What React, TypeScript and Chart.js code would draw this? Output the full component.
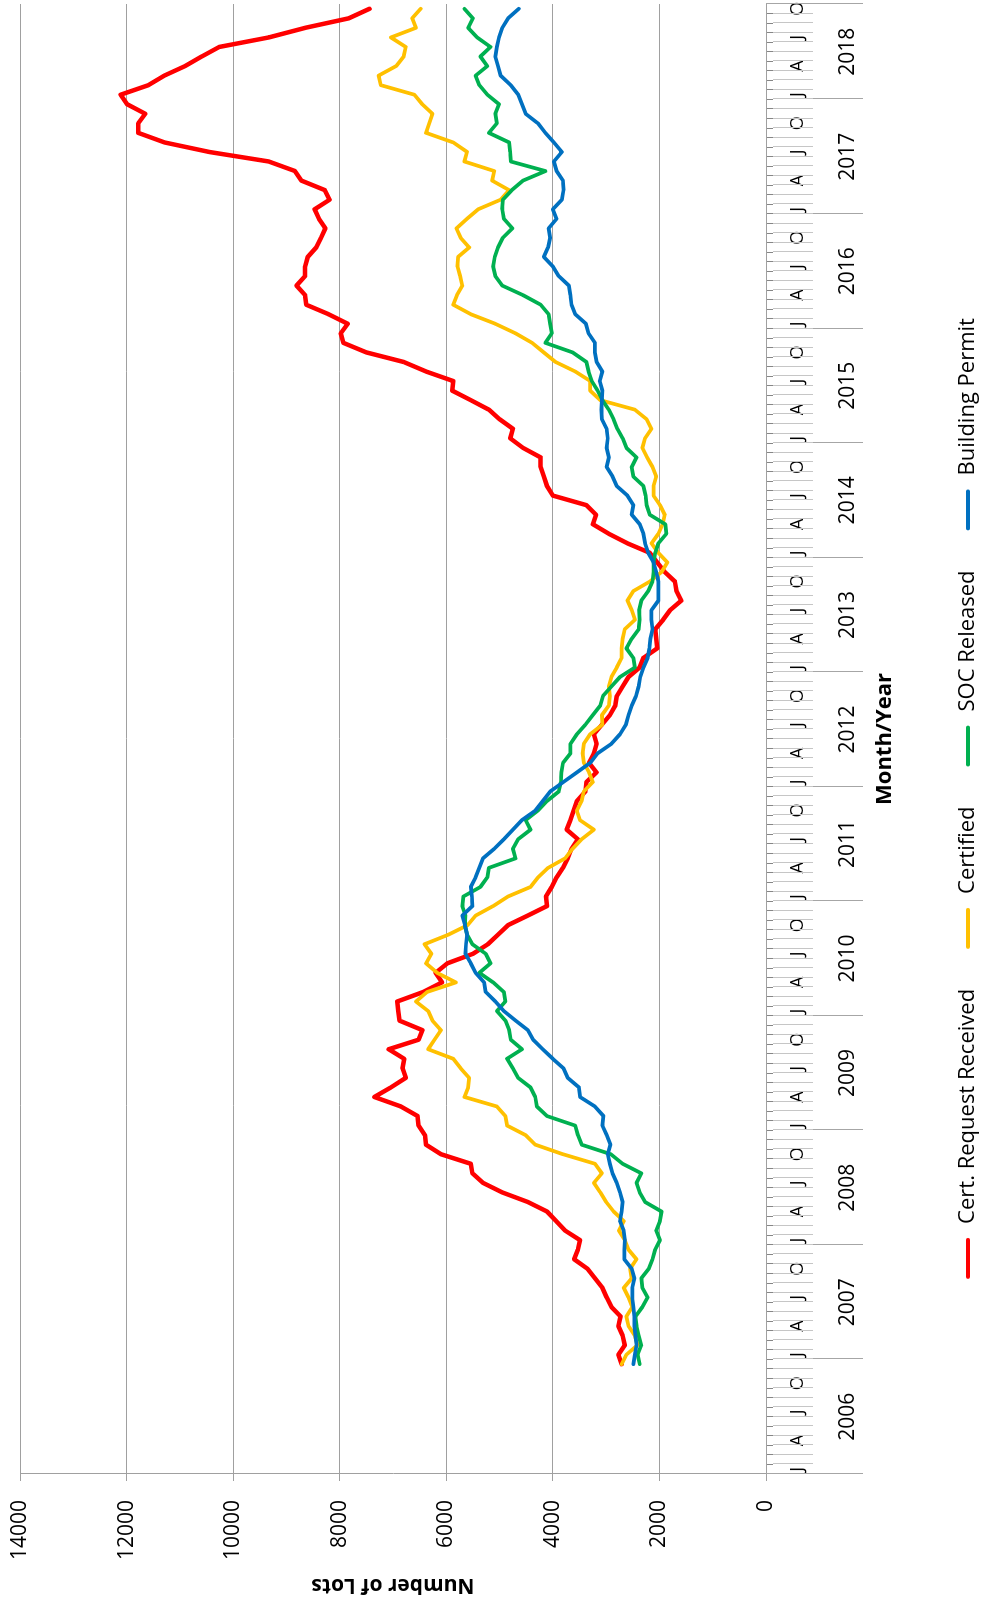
import React, { useEffect, useRef } from 'react';
import { Chart, registerables } from 'chart.js';

Chart.register(...registerables);

// ---- Category axis: months Jan 2006 .. Oct 2018 ----
const YEARS = [2006, 2007, 2008, 2009, 2010, 2011, 2012, 2013, 2014, 2015, 2016, 2017, 2018];
const MONTH_NAMES = ['Jan', 'Feb', 'Mar', 'Apr', 'May', 'Jun', 'Jul', 'Aug', 'Sep', 'Oct', 'Nov', 'Dec'];
const MONTH_TICK_LETTERS = ['J', '', '', 'A', '', '', 'J', '', '', 'O', '', ''];
const MONTHS_IN_LAST_YEAR = 10;
const FIRST_DATA_INDEX = 11; // data begins Dec 2006

const VALUE_MIN = 0;
const VALUE_MAX = 14000;
const VALUE_STEP = 2000;

// ---- Series values, Dec 2006 .. Oct 2018 ----
const certRequestReceived = [
  2710, 2770, 2650, 2690, 2770, 2730, 2900, 2990, 3070, 3210, 3350, 3600, 3530,
  3490, 3770, 3940, 4110, 4470, 4950, 5310, 5510, 5540, 6100, 6380, 6400, 6520,
  6540, 6850, 7350, 7040, 6760, 6820, 6790, 7080, 6520, 6450, 6880, 6900, 6920,
  6430, 6080, 6200, 5980, 5500, 5220, 5030, 4840, 4470, 4110, 4130, 4020, 3930,
  3810, 3720, 3650, 3530, 3740, 3670, 3610, 3550, 3390, 3370, 3180, 3320, 3230,
  3180, 3230, 3080, 2930, 2830, 2800, 2690, 2580, 2370, 2300, 2040, 2060, 2080,
  1930, 1800, 1590, 1680, 1710, 1900, 2040, 2180, 2600, 2950, 3250, 3190, 3370,
  4000, 4110, 4170, 4230, 4230, 4560, 4800, 4750, 5000, 5200, 5540, 5890, 5870,
  6380, 6800, 7500, 7930, 7980, 7850, 8210, 8630, 8650, 8810, 8650, 8650, 8600,
  8440, 8350, 8270, 8390, 8470, 8190, 8280, 8720, 8840, 9330, 10450, 11290, 11780,
  11780, 11650, 11990, 12110, 11590, 11290, 10900, 10590, 10260, 9330, 8650, 7830, 7440,
];

const certified = [
  2710, 2620, 2410, 2460, 2580, 2620, 2510, 2580, 2670, 2520, 2550, 2430, 2580,
  2650, 2760, 2670, 2860, 3000, 3110, 3230, 3080, 3210, 3810, 4330, 4510, 4860,
  4890, 5050, 5660, 5590, 5570, 5730, 5870, 6340, 6220, 6100, 6260, 6340, 6570,
  6360, 5820, 6170, 6380, 6280, 6410, 5960, 5600, 5450, 5120, 4840, 4420, 4280,
  4090, 3770, 3630, 3460, 3230, 3490, 3550, 3460, 3420, 3250, 3320, 3420, 3440,
  3420, 3300, 3070, 3080, 2950, 2930, 2950, 2900, 2800, 2710, 2710, 2690, 2650,
  2460, 2520, 2600, 2490, 2180, 1960, 1850, 2020, 2150, 2020, 1940, 1900, 1990,
  2110, 2110, 2060, 2130, 2230, 2320, 2270, 2150, 2240, 2460, 3110, 3300, 3300,
  3580, 3950, 4170, 4390, 4700, 5080, 5540, 5870, 5800, 5700, 5740, 5790, 5780,
  5570, 5730, 5810, 5610, 5400, 4980, 4820, 5140, 5100, 5660, 5610, 5870, 6380,
  6320, 6260, 6450, 6600, 7230, 7270, 6940, 6800, 6760, 7040, 6570, 6640, 6480,
];

const socReleased = [
  2370, 2410, 2340, 2390, 2430, 2450, 2320, 2220, 2320, 2340, 2200, 2130, 2080,
  1990, 2060, 1990, 1960, 2270, 2370, 2430, 2340, 2690, 2910, 3460, 3530, 3580,
  4110, 4300, 4330, 4420, 4650, 4750, 4860, 4580, 4790, 4820, 4890, 5050, 4890,
  4920, 5120, 5380, 5170, 5260, 5510, 5610, 5650, 5640, 5700, 5680, 5360, 5230,
  5200, 4700, 4750, 4650, 4420, 4510, 4280, 4110, 3890, 3850, 3840, 3810, 3670,
  3670, 3550, 3390, 3250, 3110, 3060, 2900, 2740, 2460, 2490, 2620, 2520, 2390,
  2370, 2380, 2340, 2210, 2130, 2110, 2110, 2080, 2020, 1870, 1890, 2180, 2240,
  2260, 2300, 2490, 2520, 2430, 2620, 2690, 2790, 2860, 2950, 3070, 3160, 3270,
  3330, 3370, 3630, 4140, 4020, 4050, 4080, 4230, 4560, 4950, 5080, 5120, 5090,
  5030, 4940, 4760, 4920, 4950, 4940, 4770, 4560, 4140, 4790, 4800, 4820, 5200,
  5050, 5080, 5010, 5230, 5380, 5450, 5230, 5360, 5170, 5420, 5590, 5500, 5660,
];

const buildingPermit = [
  2490, 2460, 2430, 2450, 2470, 2470, 2490, 2510, 2510, 2470, 2520, 2660, 2660,
  2650, 2670, 2740, 2710, 2690, 2740, 2800, 2880, 2930, 2970, 2920, 2990, 3070,
  3050, 3210, 3490, 3510, 3720, 3800, 4000, 4190, 4370, 4470, 4700, 4920, 5080,
  5260, 5290, 5450, 5540, 5640, 5630, 5610, 5650, 5700, 5510, 5520, 5540, 5450,
  5380, 5310, 5100, 4920, 4750, 4580, 4330, 4190, 4050, 3800, 3550, 3300, 3160,
  2900, 2740, 2630, 2580, 2520, 2440, 2390, 2360, 2300, 2220, 2190, 2170, 2130,
  2150, 2150, 2020, 2020, 2020, 2060, 2110, 2210, 2270, 2300, 2370, 2520, 2490,
  2600, 2800, 2880, 2990, 2950, 2990, 2970, 2990, 3080, 3090, 3080, 3070, 3120,
  3070, 3180, 3210, 3210, 3330, 3380, 3580, 3650, 3670, 3700, 3890, 4000, 4170,
  4090, 4050, 4080, 3930, 4000, 3830, 3800, 3810, 3930, 3980, 3830, 3980, 4140,
  4280, 4510, 4580, 4650, 4790, 4980, 5030, 5080, 5050, 5010, 4950, 4840, 4640,
];

const SERIES_LABELS = ['Cert. Request Received', 'Certified', 'SOC Released', 'Building Permit'];
const SERIES_COLORS = ['#FF0000', '#FFC000', '#00B050', '#0070C0'];
const SERIES_WIDTHS = [4.5, 3.75, 3.75, 3.75];

const FONT = '"Open Sans", "Liberation Sans", sans-serif';

function buildLabels(): string[] {
  const out: string[] = [];
  YEARS.forEach((y, yi) => {
    const count = yi === YEARS.length - 1 ? MONTHS_IN_LAST_YEAR : 12;
    for (let m = 0; m < count; m++) out.push(`${MONTH_NAMES[m]} ${y}`);
  });
  return out;
}

function pad(values: number[], total: number): (number | null)[] {
  const arr: (number | null)[] = [];
  for (let i = 0; i < total; i++) {
    const k = i - FIRST_DATA_INDEX;
    arr.push(k >= 0 && k < values.length ? values[k] : null);
  }
  return arr;
}

const multiLevelAxisPlugin = {
  id: 'multiLevelAxis',
  afterDraw(chart: any) {
    const { ctx, chartArea } = chart;
    const xs = chart.scales.x;
    const n = chart.data.labels.length;
    const half = (xs.getPixelForValue(1) - xs.getPixelForValue(0)) / 2;
    const boundary = (i: number) =>
      i < n ? xs.getPixelForValue(i) - half : xs.getPixelForValue(n - 1) + half;
    const base = chartArea.bottom;
    ctx.save();
    // month separators in label row
    ctx.strokeStyle = '#c6c6c6';
    ctx.lineWidth = 1;
    for (let i = 0; i <= n; i++) {
      const bx = Math.round(boundary(i)) + 0.5;
      ctx.beginPath();
      ctx.moveTo(bx, base + 7);
      ctx.lineTo(bx, base + 47);
      ctx.stroke();
    }
    // year separators & labels
    ctx.strokeStyle = '#a6a6a6';
    const yearStarts: number[] = [];
    for (let i = 0; i < n; i += 12) yearStarts.push(i);
    yearStarts.push(n);
    for (let k = 0; k < yearStarts.length; k++) {
      const bx = Math.round(boundary(yearStarts[k])) + 0.5;
      const isEdge = k === 0 || k === yearStarts.length - 1;
      ctx.beginPath();
      ctx.moveTo(bx, isEdge ? base : base + 47);
      ctx.lineTo(bx, base + 97);
      ctx.stroke();
    }
    ctx.fillStyle = '#000';
    ctx.font = `21px ${FONT}`;
    ctx.textAlign = 'center';
    ctx.textBaseline = 'middle';
    for (let k = 0; k < yearStarts.length - 1; k++) {
      const a = boundary(yearStarts[k]);
      const b = boundary(yearStarts[k + 1]);
      ctx.fillText(String(YEARS[k]), (a + b) / 2, base + 82);
    }
    ctx.restore();
  },
};

const legendPlugin = {
  id: 'rowLegend',
  afterDraw(chart: any) {
    const { ctx } = chart;
    const datasets = chart.data.datasets;
    ctx.save();
    ctx.font = `22px ${FONT}`;
    const marker = 37;
    const gap = 16;
    const itemGap = 42;
    const widths = datasets.map((d: any) => ctx.measureText(d.label).width);
    const total =
      widths.reduce((s: number, w: number) => s + marker + gap + w, 0) + itemGap * (datasets.length - 1);
    let x = (chart.width - total) / 2 + 5;
    const y = 968;
    datasets.forEach((d: any, i: number) => {
      ctx.strokeStyle = d.borderColor;
      ctx.lineWidth = 4;
      ctx.lineCap = 'round';
      ctx.beginPath();
      ctx.moveTo(x, y);
      ctx.lineTo(x + marker, y);
      ctx.stroke();
      ctx.fillStyle = '#000';
      ctx.textAlign = 'left';
      ctx.textBaseline = 'middle';
      ctx.fillText(d.label, x + marker + gap, y);
      x += marker + gap + widths[i] + itemGap;
    });
    ctx.restore();
  },
};

export default function App() {
  const canvasRef = useRef<HTMLCanvasElement | null>(null);

  useEffect(() => {
    if (!canvasRef.current) return;
    const labels = buildLabels();
    const seriesValues = [certRequestReceived, certified, socReleased, buildingPermit];
    const chart = new Chart(canvasRef.current, {
      type: 'line',
      data: {
        labels,
        datasets: seriesValues.map((vals, i) => ({
          label: SERIES_LABELS[i],
          data: pad(vals, labels.length),
          borderColor: SERIES_COLORS[i],
          backgroundColor: SERIES_COLORS[i],
          borderWidth: SERIES_WIDTHS[i],
          pointRadius: 0,
          tension: 0,
          fill: false,
          borderJoinStyle: 'round',
          borderCapStyle: 'round',
          order: seriesValues.length - 1 - i,
        })),
      },
      options: {
        animation: false,
        responsive: false,
        devicePixelRatio: 1,
        events: [],
        layout: { padding: { left: 0, top: 20, right: 4, bottom: 70 } },
        plugins: { legend: { display: false }, tooltip: { enabled: false } },
        scales: {
          x: {
            type: 'category',
            offset: true,
            grid: {
              display: true,
              drawOnChartArea: false,
              drawTicks: true,
              tickLength: 7,
              color: '#868686',
              offset: true,
            },
            border: { display: true, color: '#a0a0a0' },
            ticks: {
              autoSkip: false,
              maxRotation: 0,
              minRotation: 0,
              padding: 14,
              color: '#000',
              font: { family: FONT, size: 18 },
              callback: (_v: any, i: number) => MONTH_TICK_LETTERS[i % 12],
            },
            title: {
              display: true,
              text: 'Month/Year',
              color: '#000',
              font: { family: FONT, size: 22, weight: 'bold' },
              padding: { top: 0, bottom: 18 },
            },
            afterFit: (s: any) => {
              s.height = 150;
              s.paddingLeft = 0;
              s.paddingRight = 0;
            },
          },
          y: {
            min: VALUE_MIN,
            max: VALUE_MAX,
            grid: { color: '#a0a0a0', tickLength: 7, lineWidth: 1 },
            border: { display: true, color: '#a0a0a0' },
            ticks: {
              stepSize: VALUE_STEP,
              padding: 19,
              color: '#000',
              font: { family: FONT, size: 21 },
              callback: (v: any) => String(v),
            },
            title: {
              display: true,
              text: 'Number of Lots',
              color: '#000',
              font: { family: FONT, size: 21, weight: 'bold' },
              padding: { top: 7, bottom: 0 },
            },
            afterFit: (s: any) => {
              s.width = 131;
              s.paddingTop = 0;
              s.paddingBottom = 0;
            },
          },
        },
      },
      plugins: [multiLevelAxisPlugin, legendPlugin],
    } as any);
    return () => chart.destroy();
  }, []);

  return (
    <div
      style={{
        position: 'absolute',
        left: 0,
        top: 0,
        width: 986,
        height: 1605,
        overflow: 'hidden',
        background: '#fff',
      }}
    >
      <div
        style={{
          position: 'absolute',
          left: 0,
          top: 0,
          width: 1605,
          height: 986,
          transformOrigin: '0 0',
          transform: 'translate(0px, 1605px) rotate(-90deg)',
        }}
      >
        <canvas
          ref={canvasRef}
          width={1605}
          height={986}
          style={{ display: 'block', width: 1605, height: 986 }}
        />
      </div>
    </div>
  );
}
